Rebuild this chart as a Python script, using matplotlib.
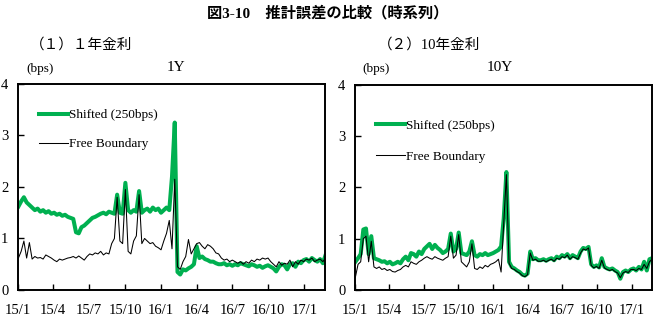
import matplotlib
matplotlib.use('Agg')
import matplotlib.pyplot as plt
import pandas as pd

# weekly observations (Fridays), Jan 2015 - Feb 2017
dates = pd.date_range('2015-01-02', periods=113, freq='W-FRI')

# 1Y estimation error (bps)
shifted_1y = [
    1.62, 1.72, 1.80, 1.70, 1.65, 1.60, 1.55, 1.58, 1.52, 1.55,
    1.50, 1.53, 1.48, 1.50, 1.46, 1.48, 1.44, 1.46, 1.42, 1.40,
    1.38, 1.12, 1.10, 1.22, 1.25, 1.30, 1.35, 1.40, 1.42, 1.45,
    1.48, 1.50, 1.47, 1.52, 1.50, 1.48, 1.85, 1.50, 1.48, 2.08,
    1.55, 1.50, 1.55, 1.52, 1.92, 1.50, 1.55, 1.58, 1.52, 1.60,
    1.55, 1.58, 1.50, 1.55, 1.60, 1.55, 2.20, 3.25, 0.35, 0.30,
    0.40, 0.38, 0.42, 0.45, 0.50, 0.85, 0.62, 0.65, 0.60, 0.58,
    0.55, 0.55, 0.52, 0.50, 0.50, 0.52, 0.48, 0.50, 0.47, 0.50,
    0.48, 0.52, 0.50, 0.48, 0.46, 0.50, 0.48, 0.45, 0.47, 0.43,
    0.46, 0.48, 0.45, 0.42, 0.36, 0.45, 0.50, 0.48, 0.40, 0.50,
    0.52, 0.45, 0.55, 0.52, 0.58, 0.60, 0.55, 0.62, 0.58, 0.55,
    0.60, 0.52, 0.68]
free_1y = [
    0.62, 0.75, 0.95, 0.62, 0.92, 0.60, 0.65, 0.62, 0.63, 0.60,
    0.68, 0.65, 0.62, 0.58, 0.55, 0.60, 0.58, 0.60, 0.62, 0.63,
    0.65, 0.62, 0.66, 0.62, 0.58, 0.65, 0.70, 0.68, 0.72, 0.70,
    0.75, 0.68, 0.72, 0.70, 0.90, 1.00, 1.80, 0.95, 0.90, 1.95,
    0.75, 0.70, 0.95, 1.05, 1.85, 0.90, 1.00, 0.95, 0.90, 0.92,
    0.85, 0.82, 0.78, 0.95, 1.10, 1.35, 0.80, 2.15, 0.45, 0.40,
    0.55, 0.65, 0.98, 0.70, 0.80, 0.90, 0.92, 0.85, 0.80, 0.88,
    0.85, 0.80, 0.72, 0.70, 0.62, 0.58, 0.60, 0.55, 0.58, 0.55,
    0.52, 0.55, 0.50, 0.55, 0.52, 0.58, 0.55, 0.60, 0.58, 0.62,
    0.60, 0.62, 0.55, 0.50, 0.45, 0.55, 0.48, 0.52, 0.50, 0.58,
    0.45, 0.55, 0.50, 0.58, 0.55, 0.60, 0.58, 0.62, 0.55, 0.58,
    0.60, 0.55, 0.62]

# 10Y estimation error (bps)
shifted_10y = [
    0.55, 0.62, 0.70, 1.18, 1.20, 0.70, 1.05, 0.62, 0.60, 0.58,
    0.55, 0.56, 0.52, 0.55, 0.50, 0.52, 0.55, 0.52, 0.60, 0.65,
    0.58, 0.72, 0.70, 0.65, 0.75, 0.70, 0.80, 0.85, 0.90, 0.80,
    0.88, 0.82, 0.78, 0.72, 0.75, 0.80, 1.10, 0.75, 0.80, 1.12,
    0.72, 0.70, 0.68, 0.75, 0.95, 0.68, 0.65, 0.70, 0.68, 0.72,
    0.68, 0.70, 0.72, 0.75, 0.78, 0.85, 1.40, 2.30, 0.55, 0.45,
    0.42, 0.38, 0.35, 0.30, 0.28, 0.32, 0.75, 0.60, 0.62, 0.58,
    0.58, 0.60, 0.57, 0.60, 0.62, 0.58, 0.65, 0.62, 0.68, 0.65,
    0.70, 0.62, 0.68, 0.65, 0.62, 0.75, 0.82, 0.80, 0.84, 0.50,
    0.45, 0.48, 0.44, 0.62, 0.45, 0.42, 0.40, 0.42, 0.38, 0.35,
    0.22, 0.35, 0.38, 0.35, 0.40, 0.42, 0.38, 0.45, 0.40, 0.55,
    0.38, 0.60, 0.62]
free_10y = [
    0.25, 0.50, 0.55, 1.00, 1.05, 0.55, 0.95, 0.45, 0.42, 0.45,
    0.40, 0.42, 0.38, 0.40, 0.36, 0.35, 0.38, 0.40, 0.45, 0.48,
    0.45, 0.55, 0.52, 0.50, 0.55, 0.58, 0.62, 0.65, 0.62, 0.60,
    0.65, 0.62, 0.60, 0.58, 0.62, 0.65, 1.05, 0.62, 0.68, 1.08,
    0.55, 0.50, 0.45, 0.55, 0.90, 0.42, 0.40, 0.45, 0.42, 0.48,
    0.45, 0.50, 0.52, 0.55, 0.60, 0.35, 1.30, 2.25, 0.52, 0.42,
    0.40, 0.36, 0.33, 0.28, 0.26, 0.30, 0.72, 0.58, 0.60, 0.56,
    0.56, 0.58, 0.55, 0.58, 0.60, 0.56, 0.62, 0.60, 0.65, 0.63,
    0.68, 0.60, 0.65, 0.63, 0.60, 0.72, 0.80, 0.78, 0.82, 0.48,
    0.43, 0.46, 0.42, 0.58, 0.43, 0.40, 0.38, 0.40, 0.36, 0.33,
    0.24, 0.33, 0.36, 0.34, 0.40, 0.40, 0.38, 0.42, 0.40, 0.50,
    0.42, 0.55, 0.60]

tick_dates = pd.date_range('2015-01-01', '2017-01-01', freq='3MS')
tick_labels = ['15/1', '15/4', '15/7', '15/10', '16/1', '16/4', '16/7', '16/10', '17/1']
yticks = [0, 1, 2, 3, 4]

green = '#00b050'
serif = 'Liberation Serif'
jp = [serif, 'Noto Sans CJK JP']

fig = plt.figure(figsize=(6.55, 3.23), dpi=100)
ax1 = fig.add_axes([0.0275, 0.1022, 0.469, 0.638])
ax2 = fig.add_axes([0.542, 0.1022, 0.453, 0.635])

panels = [(ax1, shifted_1y, free_1y, 0.935, 1.25),
          (ax2, shifted_10y, free_10y, 0.89, 1.45)]
for ax, g, b, ly, sp in panels:
    ax.plot(dates, g, color=green, lw=2.9, label='Shifted (250bps)')
    ax.plot(dates, b, color='black', lw=0.75, label='Free Boundary')
    ax.set_xlim(pd.Timestamp('2015-01-01'), pd.Timestamp('2017-02-23'))
    ax.set_ylim(0, 4)
    ax.set_xticks(tick_dates)
    ax.set_xticklabels(tick_labels, fontfamily=serif, fontsize=10.5)
    ax.set_yticks(yticks)
    ax.set_yticklabels([str(v) for v in yticks], fontfamily=serif, fontsize=10.5)
    ax.tick_params(axis='x', direction='in', length=4, width=1, pad=10)
    ax.tick_params(axis='y', direction='in', length=4, width=1, pad=7)
    for s in ax.spines.values():
        s.set_linewidth(1.4)
    ax.legend(loc='upper left', bbox_to_anchor=(0.03, ly), frameon=False,
              prop={'family': serif, 'size': 9.5}, handlelength=2.2,
              handletextpad=0.1, labelspacing=sp)

fig.text(0.50, 0.96, '図3-10　推計誤差の比較（時系列）', ha='center', va='center',
         fontsize=11, fontweight='bold', family=jp)
fig.text(0.046, 0.862, '（１）１年金利', ha='left', va='center', fontsize=10.5, family=jp)
fig.text(0.577, 0.862, '（２）10年金利', ha='left', va='center', fontsize=10.5, family=jp)
fig.text(0.041, 0.785, '(bps)', ha='left', va='center', fontsize=9.5, family=serif)
fig.text(0.269, 0.79, '1Y', ha='center', va='center', fontsize=11, family=serif)
fig.text(0.553, 0.785, '(bps)', ha='left', va='center', fontsize=9.5, family=serif)
fig.text(0.763, 0.79, '10Y', ha='center', va='center', fontsize=11, family=serif)

fig.savefig('out.png', dpi=100)
